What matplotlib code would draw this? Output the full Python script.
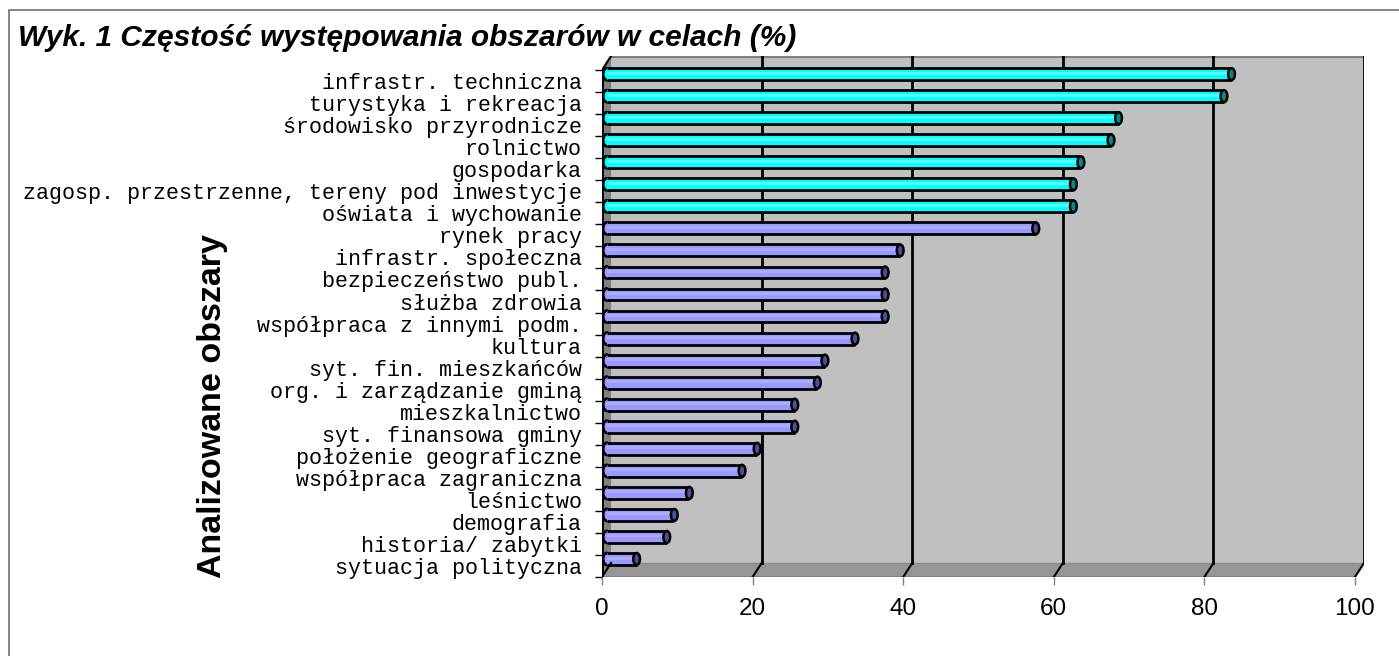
import numpy as np
import matplotlib.pyplot as plt
from matplotlib.patches import Ellipse, Polygon, Rectangle

# data (top to bottom as in the chart)
categories = [
    "infrastr. techniczna", "turystyka i rekreacja", "środowisko przyrodnicze",
    "rolnictwo", "gospodarka", "zagosp. przestrzenne, tereny pod inwestycje",
    "oświata i wychowanie", "rynek pracy", "infrastr. społeczna",
    "bezpieczeństwo publ.", "służba zdrowia", "współpraca z innymi podm.",
    "kultura", "syt. fin. mieszkańców", "org. i zarządzanie gminą",
    "mieszkalnictwo", "syt. finansowa gminy", "położenie geograficzne",
    "współpraca zagraniczna", "leśnictwo", "demografia", "historia/ zabytki",
    "sytuacja polityczna",
]
values = [83, 82, 68, 67, 63, 62, 62, 57, 39, 37, 37, 37, 33, 29, 28, 25, 25,
          20, 18, 11, 9, 8, 4]
n_cyan = 7
xticks = [0, 20, 40, 60, 80, 100]

CYAN, CYAN_DARK = "#00FFFF", "#008B8B"
LAV, LAV_DARK = "#9999FF", "#4D4D99"

# 3d look: depth offset in data units
DX, DY = 1.2, 0.635
BAR_H = 0.54
CAP_W = 0.9

W, H = 1399, 656
fig = plt.figure(figsize=(W / 100, H / 100), dpi=100)
ax = fig.add_axes([602 / W, (H - 577) / H, 762 / W, 521 / H])
n = len(categories)
ax.set_xlim(0, 762 / 7.53)
ax.set_ylim(0, 521 / 22.04)
for s in ax.spines.values():
    s.set_visible(False)

# walls and floor
ax.add_patch(Rectangle((DX, DY), 100, n, facecolor="#C0C0C0", edgecolor="none", zorder=0))
ax.add_patch(Polygon([(0, 0), (DX, DY), (DX, n + DY), (0, n)], facecolor="#808080",
                     edgecolor="none", zorder=1))
ax.add_patch(Polygon([(0, 0), (100, 0), (100 + DX, DY), (DX, DY)], facecolor="#969696",
                     edgecolor="none", zorder=1))
ax.plot([DX, 100 + DX], [n + DY, n + DY], color="#808080", lw=3, zorder=1.5,
        solid_capstyle="butt")
ax.plot([0, 100], [0, 0], color="#808080", lw=1.5, zorder=1.5)
ax.plot([DX, 100 + DX], [DY, DY], color="#8C8C8C", lw=1, zorder=1.5)

# gridlines on back wall + floor
for xv in xticks[1:]:
    ax.plot([xv + DX, xv + DX], [DY, n + DY], color="black", lw=2, zorder=1.6)
    ax.plot([xv, xv + DX], [0, DY], color="black", lw=1.5, zorder=1.6)

# left axis edges
ax.plot([0, 0], [0, n], color="black", lw=2, zorder=6)
ax.plot([0, DX], [n, n + DY], color="black", lw=1.5, zorder=6)
ax.plot([0, DX], [0, DY], color="black", lw=1.5, zorder=6)

# bars (cylinders)
ypos = n - 0.5 - np.arange(n) + DY / 2
colors = [CYAN] * n_cyan + [LAV] * (n - n_cyan)
darks = [CYAN_DARK] * n_cyan + [LAV_DARK] * (n - n_cyan)
for y, c in zip(ypos, colors):
    ax.add_patch(Ellipse((DX / 2, y), CAP_W, BAR_H, facecolor=c, edgecolor="black",
                         lw=2, zorder=2))
ax.barh(ypos, values, left=DX / 2, height=BAR_H, color=colors, linewidth=0, zorder=3)
light = ["#7FFFFF"] * n_cyan + ["#B3B3FF"] * (n - n_cyan)
ax.barh(ypos + BAR_H * 0.08, values, left=DX / 2, height=BAR_H * 0.25, color=light,
        linewidth=0, zorder=3.2, alpha=0.7)
ax.hlines(ypos + BAR_H / 2, DX / 2, np.array(values) + DX / 2, color="black", lw=2, zorder=4)
ax.hlines(ypos - BAR_H / 2, DX / 2, np.array(values) + DX / 2, color="black", lw=2, zorder=4)
for y, v, dc in zip(ypos, values, darks):
    ax.add_patch(Ellipse((v + DX / 2, y), CAP_W, BAR_H, facecolor=dc, edgecolor="black",
                         lw=1.8, zorder=5))

# ticks
ax.set_xticks(xticks)
ax.set_xticklabels([str(t) for t in xticks], fontsize=17.5, family="Liberation Sans")
ax.tick_params(axis="x", length=6, color="#808080", width=1, pad=9)
ax.set_yticks(n - 0.5 - np.arange(n))
ax.set_yticklabels(categories, fontsize=15.6, family="Liberation Mono")
ax.set_yticks(np.arange(n + 1), minor=True)
ax.tick_params(axis="y", which="major", length=0, pad=14.5)
ax.tick_params(axis="y", which="minor", length=5, color="black", width=1)

fig.text(212 / W, 1 - 406 / H, "Analizowane obszary", rotation=90, fontsize=24.5,
         fontweight="bold", family="Liberation Sans", ha="center", va="center")
fig.text(18 / W, 1 - 38 / H, "Wyk. 1 Częstość występowania obszarów w celach (%)",
         fontsize=21.5, fontweight="bold", fontstyle="italic", family="Liberation Sans",
         ha="left", va="center")

# frame around the whole chart area
fig.patches.append(Rectangle((9 / W, -0.2), 2, 1.2 - 10 / H, transform=fig.transFigure,
                             fill=False, edgecolor="#707070", lw=1.2))

fig.savefig("out.png", dpi=100)
